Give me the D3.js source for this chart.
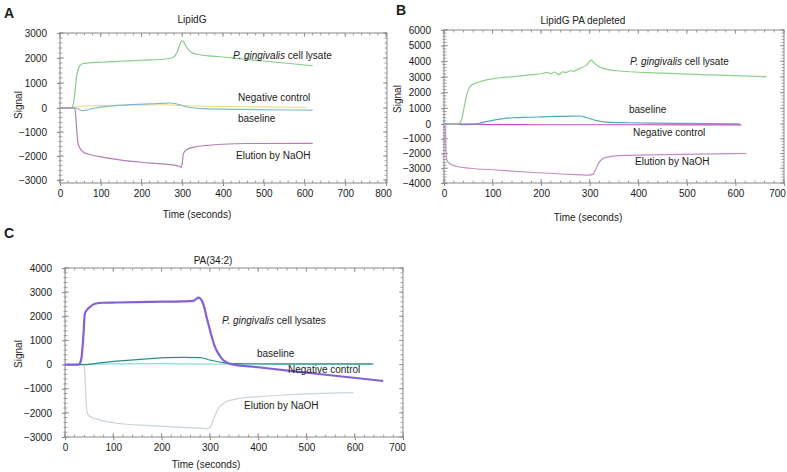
<!DOCTYPE html>
<html><head><meta charset="utf-8">
<script src="https://cdn.jsdelivr.net/npm/d3@7"></script>
<style>
body{margin:0;background:#fff}
svg{display:block}
text{font-family:"Liberation Sans",Arial,Helvetica,sans-serif;fill:#1a1a1a}
</style>
</head><body>
<svg id="chart" width="787" height="472"></svg>
<script>
// ---------------- DATA ----------------
const panelLetters = ["A", "B", "C"];
const panelTitles = ["LipidG", "LipidG PA depleted", "PA(34:2)"];
const xAxisTitle = "Time (seconds)";
const yAxisTitle = "Signal";

const xTicksA = [0, 100, 200, 300, 400, 500, 600, 700, 800];
const yTicksA = [-3000, -2000, -1000, 0, 1000, 2000, 3000];
const xTicksB = [0, 100, 200, 300, 400, 500, 600, 700];
const yTicksB = [-4000, -3000, -2000, -1000, 0, 1000, 2000, 3000, 4000, 5000, 6000];
const xTicksC = [0, 100, 200, 300, 400, 500, 600, 700];
const yTicksC = [-3000, -2000, -1000, 0, 1000, 2000, 3000, 4000];

// Panel A series: [time (s), signal]
const aLysate = [[0,0],[25,10],[30,40],[35,400],[38,850],[41,1300],[45,1550],[49,1700],[57,1780],[70,1800],[100,1830],[150,1870],[200,1910],[265,1970],[278,2030],[288,2250],[295,2580],[300,2700],[305,2600],[312,2400],[322,2230],[335,2150],[400,2040],[500,1880],[620,1690]];
const aNegative = [[0,0],[30,20],[50,60],[80,90],[150,110],[250,130],[300,100],[350,70],[450,50],[605,30]];
const aBaseline = [[0,0],[35,0],[45,-40],[55,-110],[65,-90],[80,-20],[120,70],[180,140],[240,180],[270,200],[285,170],[300,90],[320,20],[350,-30],[450,-60],[620,-90]];
const aElution = [[0,0],[35,0],[38,-200],[41,-900],[44,-1450],[48,-1650],[57,-1830],[75,-1950],[100,-2040],[150,-2170],[200,-2260],[250,-2330],[280,-2380],[293,-2430],[297,-2480],[300,-2300],[303,-1900],[310,-1750],[326,-1640],[360,-1560],[400,-1510],[465,-1480],[620,-1470]];

// Panel B series
const bLysate = [[0,0],[29,0],[36,255],[43,1320],[50,2170],[57,2490],[74,2700],[108,2920],[143,3020],[177,3130],[204,3240],[212,3290],[220,3220],[228,3320],[236,3150],[244,3330],[252,3300],[260,3400],[268,3380],[276,3500],[285,3620],[294,3770],[300,4000],[303,4080],[308,3950],[314,3770],[325,3580],[335,3490],[355,3400],[450,3250],[550,3130],[664,3020]];
const bNegative = [[0,0],[60,0],[100,-40],[200,-50],[400,-50],[612,-60]];
const bBaseline = [[0,0],[25,0],[40,-40],[60,-30],[80,100],[108,280],[143,400],[177,430],[211,470],[250,490],[280,510],[294,400],[314,210],[335,120],[380,80],[430,50],[609,10]];
const bElution = [[0,0],[2,-100],[4,-1800],[6,-2440],[12,-2700],[26,-2880],[53,-3000],[108,-3120],[177,-3270],[245,-3390],[300,-3460],[307,-3400],[312,-3100],[318,-2670],[328,-2330],[345,-2200],[362,-2150],[450,-2080],[623,-2000]];

// Panel C series
const cLysates = [[0,0],[28,0],[31,50],[34.5,330],[38,1160],[41,2100],[45,2250],[52,2390],[62,2520],[80,2560],[107,2570],[176,2600],[245,2620],[266,2640],[272,2720],[276,2770],[280,2740],[283,2660],[288,2400],[293,1980],[298,1600],[304,1150],[309,820],[314,580],[321,350],[328,180],[335,90],[342,30],[400,-110],[521,-380],[659,-680]];
const cNegative = [[0,0],[40,10],[100,30],[200,40],[300,20],[450,10],[640,10]];
const cBaseline = [[0,0],[40,0],[72,70],[107,140],[176,250],[211,290],[245,300],[280,290],[300,190],[327,80],[350,40],[450,30],[637,25]];
const cElution = [[0,0],[38,0],[41,-300],[43,-1200],[45,-1900],[48,-2080],[52,-2150],[72,-2290],[107,-2430],[176,-2530],[245,-2600],[285,-2640],[293,-2660],[298,-2640],[303,-2500],[307,-2300],[312,-2050],[318,-1800],[326,-1640],[335,-1530],[356,-1420],[400,-1330],[452,-1260],[520,-1200],[597,-1160]];

const labelLysate = "cell lysate";
const labelLysates = "cell lysates";
const labelNegative = "Negative control";
const labelBaseline = "baseline";
const labelElution = "Elution by NaOH";
const speciesName = "P. gingivalis";

// ---------------- DRAWING ----------------
const svg = d3.select("#chart");
const FS = 10;

function drawPanel(o) {
  const g = svg.append("g");
  const x = d3.scaleLinear().domain(o.xDom).range(o.xRange);
  const y = d3.scaleLinear().domain(o.yDom).range(o.yRange);
  const [fx0, fx1] = o.frameX, [fy0, fy1] = o.frameY;
  const frameCol = "#8a8a8a";

  // minor ticks (inward on all sides)
  const xMinor = d3.range(o.xDom[0], o.xDom[o.xDom.length-1] + 0.1, o.xMinorStep).map(x).filter(p => p >= fx0 - 0.5 && p <= fx1 + 0.5);
  const yMinorVals = d3.range(Math.ceil(d3.min(o.yDom) / o.yMinorStep) * o.yMinorStep, d3.max(o.yDom) + 0.1, o.yMinorStep);
  const yMinor = yMinorVals.map(y).filter(p => p >= fy0 - 0.5 && p <= fy1 + 0.5);
  const tk = g.append("g").attr("stroke", frameCol).attr("stroke-width", 0.8);
  xMinor.forEach(p => {
    tk.append("line").attr("x1", p).attr("x2", p).attr("y1", fy1).attr("y2", fy1 - 2.5);
    tk.append("line").attr("x1", p).attr("x2", p).attr("y1", fy0).attr("y2", fy0 + 2.5);
  });
  yMinor.forEach(p => {
    tk.append("line").attr("x1", fx0 - 1.5).attr("x2", fx0 + 2.5).attr("y1", p).attr("y2", p);
    tk.append("line").attr("x1", fx1).attr("x2", fx1 - 2.5).attr("y1", p).attr("y2", p);
  });

  // frame
  g.append("rect").attr("x", fx0).attr("y", fy0).attr("width", fx1 - fx0).attr("height", fy1 - fy0)
    .attr("fill", "none").attr("stroke", frameCol).attr("stroke-width", 1);

  // axes with labels (major ticks)
  const ax = g.append("g").attr("transform", `translate(0,${fy1})`)
    .call(d3.axisBottom(x).tickValues(o.xTicks).tickSize(3).tickPadding(3.5).tickFormat(d3.format("d")));
  const ay = g.append("g").attr("transform", `translate(${fx0},0)`)
    .call(d3.axisLeft(y).tickValues(o.yTicks).tickSize(3).tickPadding(10).tickFormat(d3.format("d")));
  [ax, ay].forEach(a => {
    a.select(".domain").remove();
    a.selectAll(".tick line").attr("stroke", frameCol);
    a.selectAll("text").attr("font-size", FS).attr("font-family", '"Liberation Sans",Arial,sans-serif').attr("fill", "#1a1a1a");
  });
  // nudge the last x label inward, as in the reference
  if (o.lastLabelShift) {
    ax.selectAll(".tick text").filter((d, i, n) => i === n.length - 1).attr("dx", o.lastLabelShift);
  }
  // inward major ticks
  o.xTicks.map(x).forEach(p => {
    tk.append("line").attr("x1", p).attr("x2", p).attr("y1", fy1).attr("y2", fy1 - 4);
    tk.append("line").attr("x1", p).attr("x2", p).attr("y1", fy0).attr("y2", fy0 + 4);
  });
  o.yTicks.map(y).filter(p => p >= fy0 - 0.5 && p <= fy1 + 0.5).forEach(p => {
    tk.append("line").attr("x1", fx0).attr("x2", fx0 + 4).attr("y1", p).attr("y2", p);
    tk.append("line").attr("x1", fx1).attr("x2", fx1 - 4).attr("y1", p).attr("y2", p);
  });

  // series
  const line = d3.line().x(d => x(d[0])).y(d => y(d[1])).curve(d3.curveMonotoneX);
  o.series.forEach(s => {
    g.append("path").datum(s.data).attr("d", line).attr("fill", "none")
      .attr("stroke", s.color).attr("stroke-width", s.width || 1.2).attr("stroke-linejoin", "round");
  });

  // series labels
  o.labels.forEach(l => {
    const t = g.append("text").attr("x", l.x).attr("y", l.y).attr("dy", "0.35em").attr("font-size", FS);
    if (l.italic) {
      t.append("tspan").attr("font-style", "italic").text(l.italic);
      t.append("tspan").text(" " + l.text);
    } else t.text(l.text);
  });

  // titles
  g.append("text").attr("x", o.title[0]).attr("y", o.title[1]).attr("dy", "0.35em").attr("text-anchor", "middle").attr("font-size", FS).text(o.titleText);
  g.append("text").attr("x", o.xTitle[0]).attr("y", o.xTitle[1]).attr("dy", "0.35em").attr("text-anchor", "middle").attr("font-size", FS).text(xAxisTitle);
  g.append("text").attr("transform", `translate(${o.yTitle[0]},${o.yTitle[1]}) rotate(-90)`).attr("dy", "0.35em").attr("text-anchor", "middle").attr("font-size", FS).text(yAxisTitle);
  g.append("text").attr("x", o.letter[0]).attr("y", o.letter[1]).attr("dy", "0.35em").attr("text-anchor", "middle")
    .attr("font-size", 14).attr("font-weight", "bold").attr("font-family", '"Open Sans","Liberation Sans",sans-serif').text(o.letterText);
}

drawPanel({
  letterText: panelLetters[0], letter: [9, 13], titleText: panelTitles[0], title: [192, 19],
  xTitle: [197, 214], yTitle: [18, 105],
  xDom: [0, 800], xRange: [60, 386], yDom: [-3125, 0, 3000], yRange: [183, 108, 33],
  frameX: [60, 387], frameY: [33, 183], xTicks: xTicksA, yTicks: yTicksA, xMinorStep: 20, yMinorStep: 200,
  lastLabelShift: -3,
  series: [
    { data: aNegative, color: "#e4df84" },
    { data: aBaseline, color: "#7db9cf" },
    { data: aLysate, color: "#86cb86" },
    { data: aElution, color: "#b67cb4" }
  ],
  labels: [
    { x: 233, y: 55, italic: speciesName, text: labelLysate },
    { x: 238, y: 97, text: labelNegative },
    { x: 238, y: 118, text: labelBaseline },
    { x: 236, y: 155, text: labelElution }
  ]
});

drawPanel({
  letterText: panelLetters[1], letter: [401, 10], titleText: panelTitles[1], title: [583, 20],
  xTitle: [588, 217], yTitle: [397, 99],
  xDom: [0, 700], xRange: [444, 784], yDom: [-4000, 0, 6000], yRange: [183, 124, 30],
  frameX: [444, 784], frameY: [30, 183], xTicks: xTicksB, yTicks: yTicksB, xMinorStep: 20, yMinorStep: 200,
  lastLabelShift: -7,
  series: [
    { data: bBaseline, color: "#52aab5" },
    { data: bNegative, color: "#c04ec6" },
    { data: bLysate, color: "#8ccf8c" },
    { data: bElution, color: "#c88bc8" }
  ],
  labels: [
    { x: 630, y: 61, italic: speciesName, text: labelLysate },
    { x: 629, y: 109, text: labelBaseline },
    { x: 633, y: 132, text: labelNegative },
    { x: 635, y: 161, text: labelElution }
  ]
});

drawPanel({
  letterText: panelLetters[2], letter: [9, 233], titleText: panelTitles[2], title: [213, 260],
  xTitle: [206, 464], yTitle: [18, 354],
  xDom: [0, 700], xRange: [65, 403], yDom: [-3000, 4000], yRange: [437, 268],
  frameX: [65, 403], frameY: [268, 437], xTicks: xTicksC, yTicks: yTicksC, xMinorStep: 20, yMinorStep: 200,
  lastLabelShift: -6,
  series: [
    { data: cNegative, color: "#8adcdc" },
    { data: cElution, color: "#c9d3da" },
    { data: cBaseline, color: "#2b8c8c" },
    { data: cLysates, color: "#8560d6", width: 2.2 }
  ],
  labels: [
    { x: 222, y: 320, italic: speciesName, text: labelLysates },
    { x: 257, y: 353, text: labelBaseline },
    { x: 288, y: 369, text: labelNegative },
    { x: 244, y: 405, text: labelElution }
  ]
});
</script>
</body></html>
